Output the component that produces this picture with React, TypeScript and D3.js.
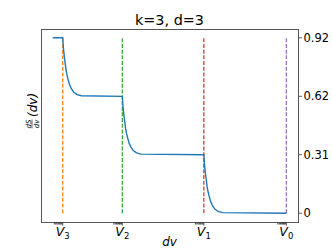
import React from "react";
import { scaleLinear, line } from "d3";

// step levels of dS/dv and where each V sits on the dv axis
const levels = [0.923, 0.615, 0.308, 0];
const vNames = ["3", "2", "1", "0"];
const vPos = [0.043, 0.298, 0.647, 1.0];
const vColors = ["#ff7f0e", "#2ca02c", "#d62728", "#9467bd"];
const curveStart = 0;

// shape of each drop (dv after the V line, share of step left)
const decayOffset = [0, 0.003, 0.007, 0.011, 0.014, 0.018, 0.022, 0.029, 0.037, 0.047, 0.061, 0.08];
const decayShare = [1, 0.82, 0.67, 0.55, 0.45, 0.37, 0.3, 0.2, 0.13, 0.07, 0.03, 0.01];

// y tick values and their labels
const yTicks = [0.923, 0.615, 0.308, 0];
const yTickLabels = ["0.92", "0.62", "0.31", "0"];

// little cluster of minor ticks left of each V
const minorOffsets = [-0.036, -0.03, -0.025, -0.02, -0.016, -0.012, -0.008, -0.004];

const W = 332;
const H = 249;
const left = 41;
const right = 298;
const top = 29;
const bottom = 222;
const font = "DejaVu Sans, sans-serif";

const App = () => {
  const span = vPos[3] - curveStart;
  const x = scaleLinear()
    .domain([curveStart - span * 0.05, vPos[3] + span * 0.05])
    .range([left, right]);
  const yMax = levels[0];
  const y = scaleLinear()
    .domain([-yMax * 0.05, yMax * 1.05])
    .range([bottom, top]);

  const pts: [number, number][] = [[curveStart, levels[0]]];
  for (let i = 0; i < 3; i++) {
    const hi = levels[i];
    const lo = levels[i + 1];
    decayOffset.forEach((o, j) => {
      pts.push([vPos[i] + o, lo + (hi - lo) * decayShare[j]]);
    });
    pts.push([vPos[i + 1], lo]);
  }

  const path = line<[number, number]>()
    .x((d) => x(d[0]))
    .y((d) => y(d[1]))(pts);

  return (
    <svg
      width={W}
      height={H}
      style={{ position: "fixed", left: 0, top: 0, background: "#fff" }}
      fontFamily={font}
    >
      <rect x={0} y={0} width={W} height={H} fill="#fff" />
      <text x={(left + right) / 2} y={25} textAnchor="middle" fontSize={14.4}>
        k=3, d=3
      </text>

      {vPos.map((v, i) => (
        <line
          key={"v" + i}
          x1={x(v)}
          x2={x(v)}
          y1={y(0)}
          y2={y(levels[0])}
          stroke={vColors[i]}
          strokeWidth={1.2}
          strokeDasharray="4,1.7"
        />
      ))}

      <path d={path || ""} fill="none" stroke="#1f77b4" strokeWidth={1.4} />

      <rect
        x={left + 0.5}
        y={top + 0.5}
        width={right - left}
        height={bottom - top}
        fill="none"
        stroke="#555"
        strokeWidth={1}
      />

      {/* right-hand y axis */}
      {yTicks.map((t, i) => (
        <g key={"y" + i}>
          <line x1={right + 0.5} x2={right + 4} y1={y(t)} y2={y(t)} stroke="#333" strokeWidth={0.8} />
          <text x={right + 5.5} y={y(t)} dy="0.36em" fontSize={11.5}>
            {yTickLabels[i]}
          </text>
        </g>
      ))}

      {/* x axis ticks and V labels */}
      {vPos.map((v, i) => (
        <g key={"x" + i}>
          {minorOffsets.map((o, j) => (
            <line
              key={j}
              x1={x(v + o)}
              x2={x(v + o)}
              y1={bottom + 0.5}
              y2={bottom + 2.5}
              stroke="#222"
              strokeWidth={0.8}
            />
          ))}
          <line x1={x(v)} x2={x(v)} y1={bottom + 0.5} y2={bottom + 3.5} stroke="#222" strokeWidth={0.8} />
          <text x={x(v)} y={236} textAnchor="middle" fontSize={12.5}>
            <tspan fontStyle="italic">V</tspan>
            <tspan fontSize={8.5} dy={2.5}>
              {vNames[i]}
            </tspan>
          </text>
        </g>
      ))}

      <text x={(left + right) / 2} y={246} textAnchor="middle" fontSize={12} fontStyle="italic">
        dv
      </text>

      {/* y label: dS/dv (dv) */}
      <g transform="translate(33,110) rotate(-90)">
        <text x={-14} y={-2.5} textAnchor="middle" fontSize={7} fontStyle="italic">
          dS
        </text>
        <line x1={-18.5} x2={-9.5} y1={-1} y2={-1} stroke="#000" strokeWidth={0.6} />
        <text x={-14} y={5.5} textAnchor="middle" fontSize={7} fontStyle="italic">
          dv
        </text>
        <text x={-7} y={4} fontSize={12} fontStyle="italic">
          (dv)
        </text>
      </g>
    </svg>
  );
};

export default App;
